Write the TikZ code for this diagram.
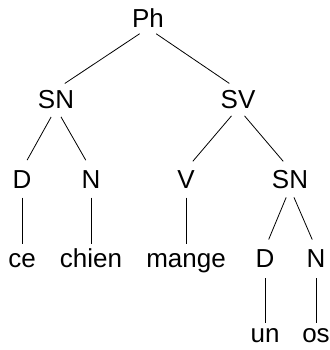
\documentclass[tikz,border=0pt]{standalone}
\usepackage{fontspec}
\setmainfont{Liberation Sans}
\begin{document}
\begin{tikzpicture}[x=1pt,y=-1pt,
  lab/.style={anchor=base,inner sep=0pt,text height=18.5pt,text depth=0pt,font=\fontsize{26}{30}\selectfont},
  branch/.style={line width=0.8pt,shorten <=10pt,shorten >=10.5pt},
  stem/.style={line width=0.8pt,shorten <=9.5pt}]
\useasboundingbox (0,0) rectangle (329,350);
\node[lab] (ph) at (148,28) {Ph};
\node[lab] (sn1) at (56,108) {SN};
\node[lab] (sv) at (238,108) {SV};
\node[lab] (d1) at (22,188) {D};
\node[lab] (n1) at (91,188) {N};
\node[lab] (v) at (186,188) {V};
\node[lab] (sn2) at (290,188) {SN};
\node[lab] (ce) at (22,267) {ce};
\node[lab] (chien) at (91,267) {chien};
\node[lab] (mange) at (186,267) {mange};
\node[lab] (d2) at (265,267) {D};
\node[lab] (n2) at (316,267) {N};
\node[lab] (un) at (265,342) {un};
\node[lab] (os) at (316,342) {os};
\draw[branch] (ph.south) -- (sn1.north);
\draw[branch] (ph.south) -- (sv.north);
\draw[branch] (sn1.south) -- (d1.north);
\draw[branch] (sn1.south) -- (n1.north);
\draw[branch] (sv.south) -- (v.north);
\draw[branch] (sv.south) -- (sn2.north);
\draw[stem,shorten >=4.5pt] (d1.south) -- (ce.north);
\draw[stem,shorten >=4.5pt] (n1.south) -- (chien.north);
\draw[stem,shorten >=4.5pt] (v.south) -- (mange.north);
\draw[branch,shorten >=9.5pt] (sn2.south) -- (d2.north);
\draw[branch,shorten >=9.5pt] (sn2.south) -- (n2.north);
\draw[stem,shorten <=11pt,shorten >=0.5pt] (d2.south) -- (un.north);
\draw[stem,shorten <=11pt,shorten >=0.5pt] (n2.south) -- (os.north);
\end{tikzpicture}
\end{document}
